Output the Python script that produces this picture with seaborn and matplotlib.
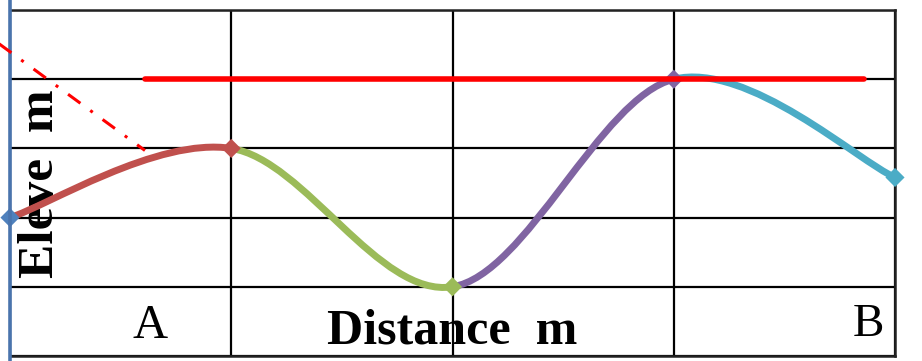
import matplotlib
matplotlib.use("Agg")
import matplotlib.pyplot as plt
import seaborn as sns
import pandas as pd
from matplotlib.path import Path
from matplotlib.patches import PathPatch

# profile points along the section A -> B
distance = [0, 1, 2, 3, 4]
elevation = [2.0, 3.0, 1.0, 4.0, 2.58]
segment_colors = ["#C0504D", "#9BBB59", "#8064A2", "#4BACC6"]
marker_colors = ["#4F81BD", "#C0504D", "#9BBB59", "#8064A2", "#4BACC6"]

# horizontal sight line and the sloping dash-dot line
sight_x = [0.61, 3.86]
sight_y = [4.0, 4.0]
slope_x = [-0.1, 0.61]
slope_y = [4.63, 2.97]


def smooth_segments(xs, ys):
    """Excel-style smoothed line: one cubic Bezier per segment."""
    pts = list(zip(xs, ys))
    n = len(pts)
    paths = []
    for i in range(n - 1):
        p0, p1 = pts[i], pts[i + 1]
        pm = pts[i - 1] if i > 0 else p0
        pn = pts[i + 2] if i + 2 < n else p1
        c1 = (p0[0] + (p1[0] - pm[0]) / 6, p0[1] + (p1[1] - pm[1]) / 6)
        c2 = (p1[0] - (pn[0] - p0[0]) / 6, p1[1] - (pn[1] - p0[1]) / 6)
        paths.append(Path([p0, c1, c2, p1],
                          [Path.MOVETO, Path.CURVE4, Path.CURVE4, Path.CURVE4]))
    return paths


sns.set_style("white")
fig = plt.figure(figsize=(9.22, 3.61), dpi=100)
ax = fig.add_axes([10 / 922, 5 / 361, 885 / 922, 346 / 361])

# grid of cells
ax.set_xlim(0, 4)
ax.set_ylim(0, 5)
ax.set_xticks(range(0, 5))
ax.set_yticks(range(0, 6))
ax.tick_params(length=0, labelbottom=False, labelleft=False)
ax.grid(True, color="black", linewidth=1.6)
for side in ["top", "right", "bottom"]:
    ax.spines[side].set_color("#222222")
    ax.spines[side].set_linewidth(1.8)
ax.spines["left"].set_visible(False)
ax.axvline(0, ymin=-0.03, ymax=1.03, color="#4A74AD", linewidth=2.6,
           clip_on=False, zorder=6)

# smoothed profile, one colour per segment
for path, col in zip(smooth_segments(distance, elevation), segment_colors):
    ax.add_patch(PathPatch(path, facecolor="none", edgecolor=col,
                           linewidth=5.0, capstyle="round", zorder=4))

points = pd.DataFrame({"distance": distance, "elevation": elevation,
                       "pt": [str(i) for i in range(len(distance))]})
sns.scatterplot(data=points, x="distance", y="elevation", hue="pt",
                palette=marker_colors, marker="D", s=95, linewidth=0,
                legend=False, ax=ax, zorder=5, clip_on=False)

sns.lineplot(x=sight_x, y=sight_y, color="#FF0000", linewidth=4.0, ax=ax,
             zorder=6)
sns.lineplot(x=slope_x, y=slope_y, color="#FF0000", linewidth=2.2, ax=ax,
             dashes=False, zorder=6)
ax.lines[-1].set_dashes([5, 4, 1, 4])
ax.lines[-1].set_clip_on(False)

ax.set_xlabel("")
ax.set_ylabel("")

serif = ["Liberation Serif", "DejaVu Serif"]
ax.text(2.0, 0.18, "Distance  m", ha="center", va="baseline", fontsize=36,
        fontweight="bold", family=serif, color="black", zorder=3)
ax.text(0.632, 0.26, "A", ha="center", va="baseline", fontsize=35,
        family=serif, color="black", zorder=3)
ax.text(3.88, 0.29, "B", ha="center", va="baseline", fontsize=34,
        family=serif, color="black", zorder=3)
ax.text(0.194, 1.12, "Eleve  m", ha="left", va="baseline", rotation=90,
        rotation_mode="anchor", fontsize=37, fontweight="bold", family=serif,
        color="black", zorder=3)

fig.savefig("out.png", dpi=100)
